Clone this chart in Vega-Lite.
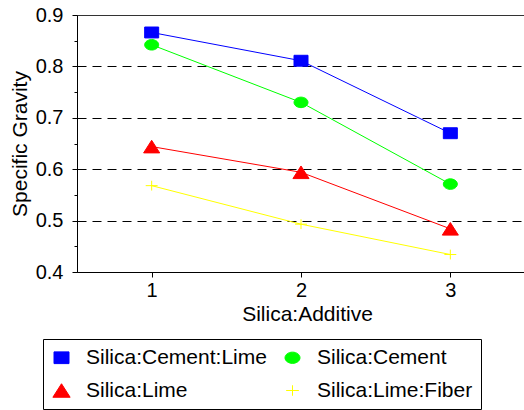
{
  "$schema": "https://vega.github.io/schema/vega-lite/v6.json",
  "width": 448,
  "height": 257,
  "autosize": "none",
  "padding": {"left": 77, "top": 15, "right": 0, "bottom": 138},
  "background": "white",
  "config": {
    "font": "Liberation Sans",
    "view": {"stroke": "#333333", "strokeWidth": 1},
    "legend": {
      "orient": "none",
      "legendX": -34,
      "legendY": 324,
      "direction": "horizontal",
      "columns": 2,
      "padding": 8,
      "strokeColor": "#000000",
      "fillColor": "#FFFFFF",
      "symbolSize": 225,
      "symbolStrokeWidth": 1,
      "labelFontSize": 21,
      "labelColor": "#000000",
      "labelLimit": 400,
      "labelOffset": 14,
      "rowPadding": 11,
      "columnPadding": 15,
      "gridAlign": "each"
    }
  },
  "data": {
    "values": [
      {"additive": 1, "series": "Silica:Cement:Lime", "sg": 0.866},
      {"additive": 2, "series": "Silica:Cement:Lime", "sg": 0.811},
      {"additive": 3, "series": "Silica:Cement:Lime", "sg": 0.670},
      {"additive": 1, "series": "Silica:Cement", "sg": 0.842},
      {"additive": 2, "series": "Silica:Cement", "sg": 0.730},
      {"additive": 3, "series": "Silica:Cement", "sg": 0.571},
      {"additive": 1, "series": "Silica:Lime", "sg": 0.644},
      {"additive": 2, "series": "Silica:Lime", "sg": 0.594},
      {"additive": 3, "series": "Silica:Lime", "sg": 0.484},
      {"additive": 1, "series": "Silica:Lime:Fiber", "sg": 0.568},
      {"additive": 2, "series": "Silica:Lime:Fiber", "sg": 0.493},
      {"additive": 3, "series": "Silica:Lime:Fiber", "sg": 0.434}
    ]
  },
  "encoding": {
    "x": {
      "field": "additive",
      "type": "quantitative",
      "scale": {"domain": [0.5, 3.5], "nice": false, "zero": false},
      "axis": {
        "title": "Silica:Additive",
        "values": [1, 2, 3],
        "format": "d",
        "grid": false,
        "domainColor": "#000000",
        "tickColor": "#000000",
        "tickSize": 5,
        "labelColor": "#000000",
        "labelFontSize": 20,
        "labelPadding": 3,
        "titleFontSize": 21,
        "titleFontWeight": "normal",
        "titleColor": "#000000",
        "titlePadding": 3,
        "titleX": 230
      }
    },
    "y": {
      "field": "sg",
      "type": "quantitative",
      "scale": {"domain": [0.4, 0.9], "nice": false, "zero": false},
      "axis": {
        "title": "Specific Gravity",
        "values": [0.4, 0.45, 0.5, 0.55, 0.6, 0.65, 0.7, 0.75, 0.8, 0.85, 0.9],
        "labelExpr": "abs(datum.value*10 - round(datum.value*10)) > 0.01 ? '' : format(datum.value, '.1f')",
        "grid": true,
        "gridColor": "#000000",
        "gridDash": [9, 6],
        "gridWidth": 1,
        "gridOpacity": {"condition": {"test": "datum.value < 0.45 || datum.value > 0.85 || abs(datum.value*10 - round(datum.value*10)) > 0.01", "value": 0}, "value": 1},
        "tickSize": {"condition": {"test": "abs(datum.value*10 - round(datum.value*10)) > 0.01", "value": 3}, "value": 5},
        "domainColor": "#000000",
        "tickColor": "#000000",
        "labelColor": "#000000",
        "labelFontSize": 20,
        "labelPadding": 9,
        "titleFontSize": 21,
        "titleFontWeight": "normal",
        "titleColor": "#000000",
        "titlePadding": 5
      }
    },
    "stroke": {
      "field": "series",
      "type": "nominal",
      "scale": {
        "domain": ["Silica:Cement:Lime", "Silica:Cement", "Silica:Lime", "Silica:Lime:Fiber"],
        "range": ["#0000FF", "#00FF00", "#FF0000", "#FFFF00"]
      },
      "legend": {"title": null}
    }
  },
  "layer": [
    {
      "mark": {"type": "line", "strokeWidth": 1}
    },
    {
      "mark": {"type": "point", "opacity": 1, "strokeWidth": 1, "size": 196},
      "encoding": {
        "fill": {
          "field": "series",
          "type": "nominal",
          "scale": {
            "domain": ["Silica:Cement:Lime", "Silica:Cement", "Silica:Lime", "Silica:Lime:Fiber"],
            "range": ["#0000FF", "#00FF00", "#FF0000", "#FFFF00"]
          },
          "legend": {"title": null}
        },
        "shape": {
          "field": "series",
          "type": "nominal",
          "scale": {
            "domain": ["Silica:Cement:Lime", "Silica:Cement", "Silica:Lime", "Silica:Lime:Fiber"],
            "range": [
              "M-1,-0.78H1V0.78H-1Z",
              "M-1,0A1,0.75 0 1,0 1,0A1,0.75 0 1,0 -1,0Z",
              "M0,-0.9L1.15,0.9H-1.15Z",
              "M-0.85,0H0.85M0,-0.7V0.7"
            ]
          },
          "legend": {"title": null}
        }
      }
    }
  ]
}
